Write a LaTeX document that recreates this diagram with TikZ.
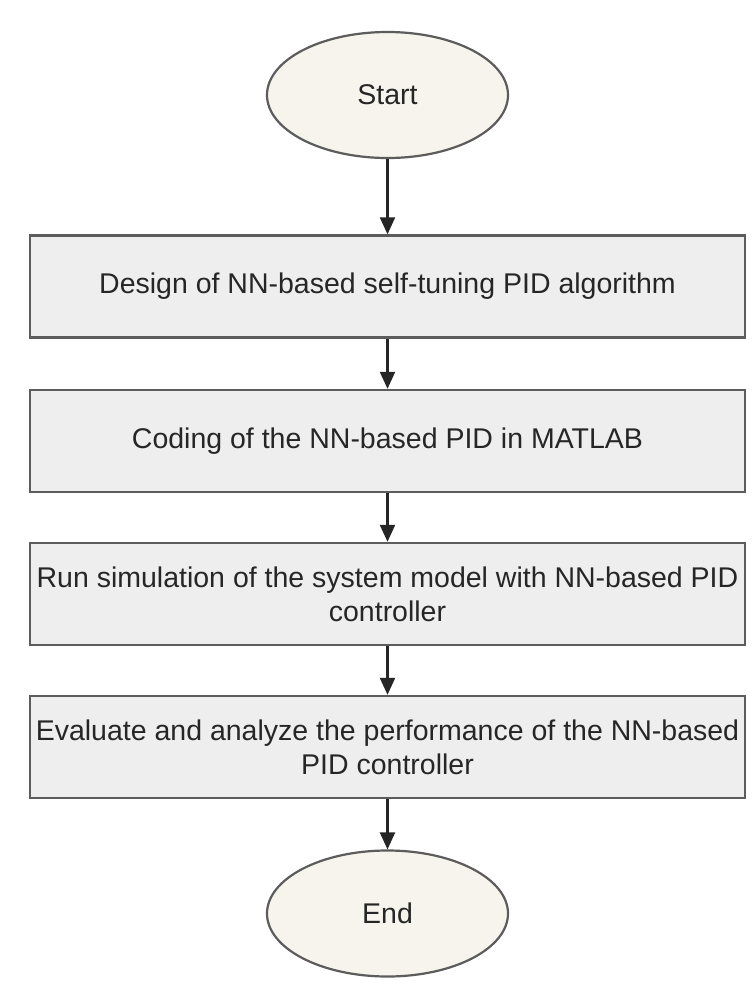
\documentclass[tikz,border=0pt]{standalone}
\usepackage{fontspec}
\setmainfont{Liberation Sans}
\usetikzlibrary{shapes.geometric,arrows.meta}
\definecolor{boxfill}{HTML}{EEEEEE}
\definecolor{ellfill}{HTML}{F6F4EC}
\definecolor{edge}{HTML}{5C5C5C}
\definecolor{txt}{HTML}{262626}
\begin{document}
\begin{tikzpicture}[x=1pt,y=1pt,
  stepbox/.style={rectangle,draw=edge,line width=2.4pt,fill=boxfill,minimum width=715pt,minimum height=102pt,inner sep=0pt,align=center,text=txt,font=\fontsize{28.5}{34}\selectfont},
  terminal/.style={ellipse,draw=edge,line width=2.2pt,fill=ellfill,minimum width=241pt,minimum height=126pt,inner sep=0pt,text=txt,font=\fontsize{28.5}{34}\selectfont},
  flow/.style={draw=txt,line width=2.2pt,-{Triangle[width=15pt,length=17pt]}}]
\useasboundingbox[fill=white] (0,0) rectangle (753,-997);
\node[terminal] (start) at (387.5,-95) {Start};
\node[stepbox] (b1) at (387.5,-286.5) {Design of NN-based self-tuning PID algorithm};
\node[stepbox] (b2) at (387.5,-441) {Coding of the NN-based PID in MATLAB};
\node[stepbox] (b3) at (387.5,-594) {Run simulation of the system model with NN-based PID\\controller};
\node[stepbox] (b4) at (387.5,-747) {Evaluate and analyze the performance of the NN-based\\PID controller};
\node[terminal] (end) at (387.5,-913.5) {End};
\draw[flow] (start) -- (b1);
\draw[flow] (b1) -- (b2);
\draw[flow] (b2) -- (b3);
\draw[flow] (b3) -- (b4);
\draw[flow] (b4) -- (end);
\end{tikzpicture}
\end{document}
